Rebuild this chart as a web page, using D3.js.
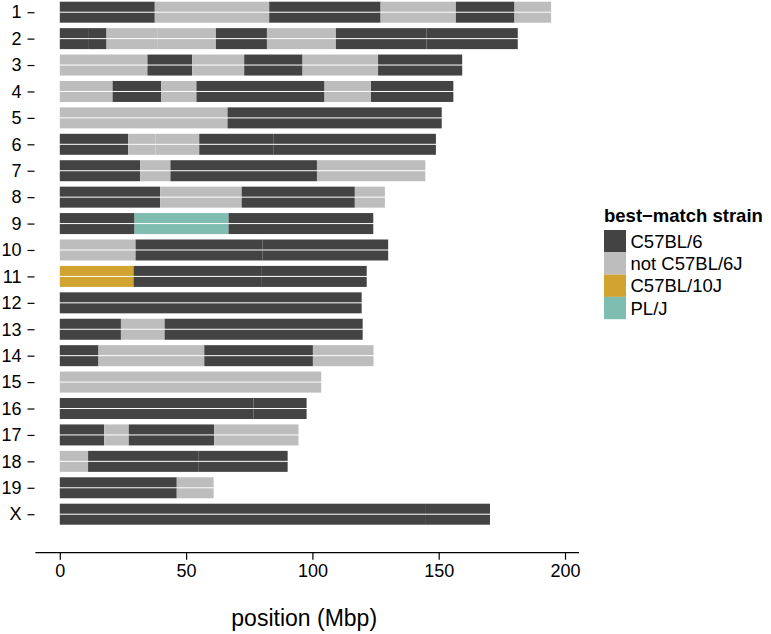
<!DOCTYPE html>
<html>
<head>
<meta charset="utf-8">
<script src="https://cdn.jsdelivr.net/npm/d3@7"></script>
<style>
  body { margin: 0; background: #fff; }
  text { font-family: "Liberation Sans", Arial, Helvetica, sans-serif; fill: #000; }
</style>
</head>
<body>
<div id="chart"></div>
<script>

// chromosomes, top to bottom
var chromosomes = ["1","2","3","4","5","6","7","8","9","10",
                   "11","12","13","14","15","16","17","18","19","X"];

// strain names (legend order)
var strains = ["C57BL/6", "not C57BL/6J", "C57BL/10J", "PL/J"];

// segment end positions (Mbp) for each chromosome; each segment starts where the previous one ends
var segmentEnds = [
  [37.6, 82.9, 127, 156.8, 180, 194.5],
  [11.2, 18.5, 38.8, 61.8, 82, 109.3, 145.2, 181.3],
  [34.7, 52.4, 73, 96.1, 126, 159.3],
  [20.9, 40.1, 54.1, 104.8, 123.2, 155.8],
  [66.4, 151.2],
  [27.1, 37.9, 55.2, 84.5, 148.9],
  [31.8, 43.8, 101.8, 144.7],
  [39.7, 72, 116.8, 128.7],
  [29.6, 66.8, 124.1],
  [30, 80.3, 130],
  [29.2, 80, 121.5],
  [119.5],
  [24.2, 41.5, 119.9],
  [15.3, 57.2, 100.2, 124.2],
  [103.5],
  [76.7, 97.7],
  [17.6, 27.3, 61.1, 94.5],
  [11.2, 54.8, 90.2],
  [46.3, 60.9],
  [144.6, 170.3]
];

// best-match strain of each segment (index into strains)
var segmentStrains = [
  [0, 1, 0, 1, 0, 1],
  [0, 0, 1, 1, 0, 1, 0, 0],
  [1, 0, 1, 0, 1, 0],
  [1, 0, 1, 0, 1, 0],
  [1, 0],
  [0, 1, 1, 0, 0],
  [0, 1, 0, 1],
  [0, 1, 0, 1],
  [0, 3, 0],
  [1, 0, 0],
  [2, 0, 0],
  [0],
  [0, 1, 0],
  [0, 1, 0, 1],
  [1],
  [0, 0],
  [0, 1, 0, 1],
  [1, 0, 0],
  [0, 1],
  [0, 0]
];

var xTicks = [0, 50, 100, 150, 200];

var width = 771,
    height = 634;

var color = d3.scaleOrdinal()
    .domain(strains)
    .range(["#434343", "#bdbdbd", "#d1a431", "#7fbdb1"]);

var x = d3.scaleLinear().domain([0, 200]).range([59.8, 565]);
var y = d3.scalePoint().domain(chromosomes).range([12.2, 514.2]);

var svg = d3.select("#chart").append("svg")
    .attr("width", width)
    .attr("height", height);

// flatten into one row per segment and haplotype
var segs = [];
chromosomes.forEach(function(chr, i) {
  var start = 0;
  segmentEnds[i].forEach(function(end, j) {
    [0, 1].forEach(function(h) {
      segs.push({chr: chr, hap: h, start: start, end: end, strain: strains[segmentStrains[i][j]]});
    });
    start = end;
  });
});

svg.append("g").selectAll("rect")
    .data(segs)
  .enter().append("rect")
    .attr("x", function(d) { return x(d.start); })
    .attr("width", function(d) { return x(d.end) - x(d.start); })
    .attr("y", function(d) { return y(d.chr) + (d.hap ? 0.5 : -10.5); })
    .attr("height", 10)
    .attr("fill", function(d) { return color(d.strain); });

// y axis: labels and ticks only
var yAxis = svg.append("g")
    .attr("transform", "translate(34.5,0)")
    .call(d3.axisLeft(y).tickSize(7).tickPadding(6));
yAxis.select(".domain").remove();
yAxis.selectAll("line").attr("stroke", "#000").attr("stroke-width", 1.2);
yAxis.selectAll("text").attr("font-size", 18).attr("fill", "#000")
    .style("font-family", "'Liberation Sans', Arial, sans-serif");

// x axis
var xAxis = svg.append("g")
    .attr("transform", "translate(0,552.7)")
    .call(d3.axisBottom(x).tickValues(xTicks).tickSize(7).tickPadding(5).tickSizeOuter(0));
xAxis.select(".domain").attr("d", "M35.4,0H579").attr("stroke", "#000").attr("stroke-width", 1.3);
xAxis.selectAll(".tick line").attr("stroke", "#000").attr("stroke-width", 1.2);
xAxis.selectAll("text").attr("font-size", 18).attr("fill", "#000")
    .style("font-family", "'Liberation Sans', Arial, sans-serif");

svg.append("text")
    .attr("x", (35.4 + 579) / 2 - 3)
    .attr("y", 626)
    .attr("text-anchor", "middle")
    .attr("font-size", 23)
    .text("position (Mbp)");

// legend
var legend = svg.append("g").attr("transform", "translate(604,230)");

legend.append("text")
    .attr("x", 0)
    .attr("y", -8.5)
    .attr("font-size", 18.5)
    .attr("font-weight", "bold")
    .text("best\u2212match strain");

var item = legend.selectAll(".item")
    .data(strains)
  .enter().append("g")
    .attr("class", "item")
    .attr("transform", function(d, i) { return "translate(0," + (i * 22.3) + ")"; });

item.append("rect")
    .attr("width", 22)
    .attr("height", 22.3)
    .attr("fill", function(d) { return color(d); });

item.append("text")
    .attr("x", 26.5)
    .attr("y", 11.2)
    .attr("dy", "0.35em")
    .attr("font-size", 18.5)
    .text(function(d) { return d; });

</script>
</body>
</html>
